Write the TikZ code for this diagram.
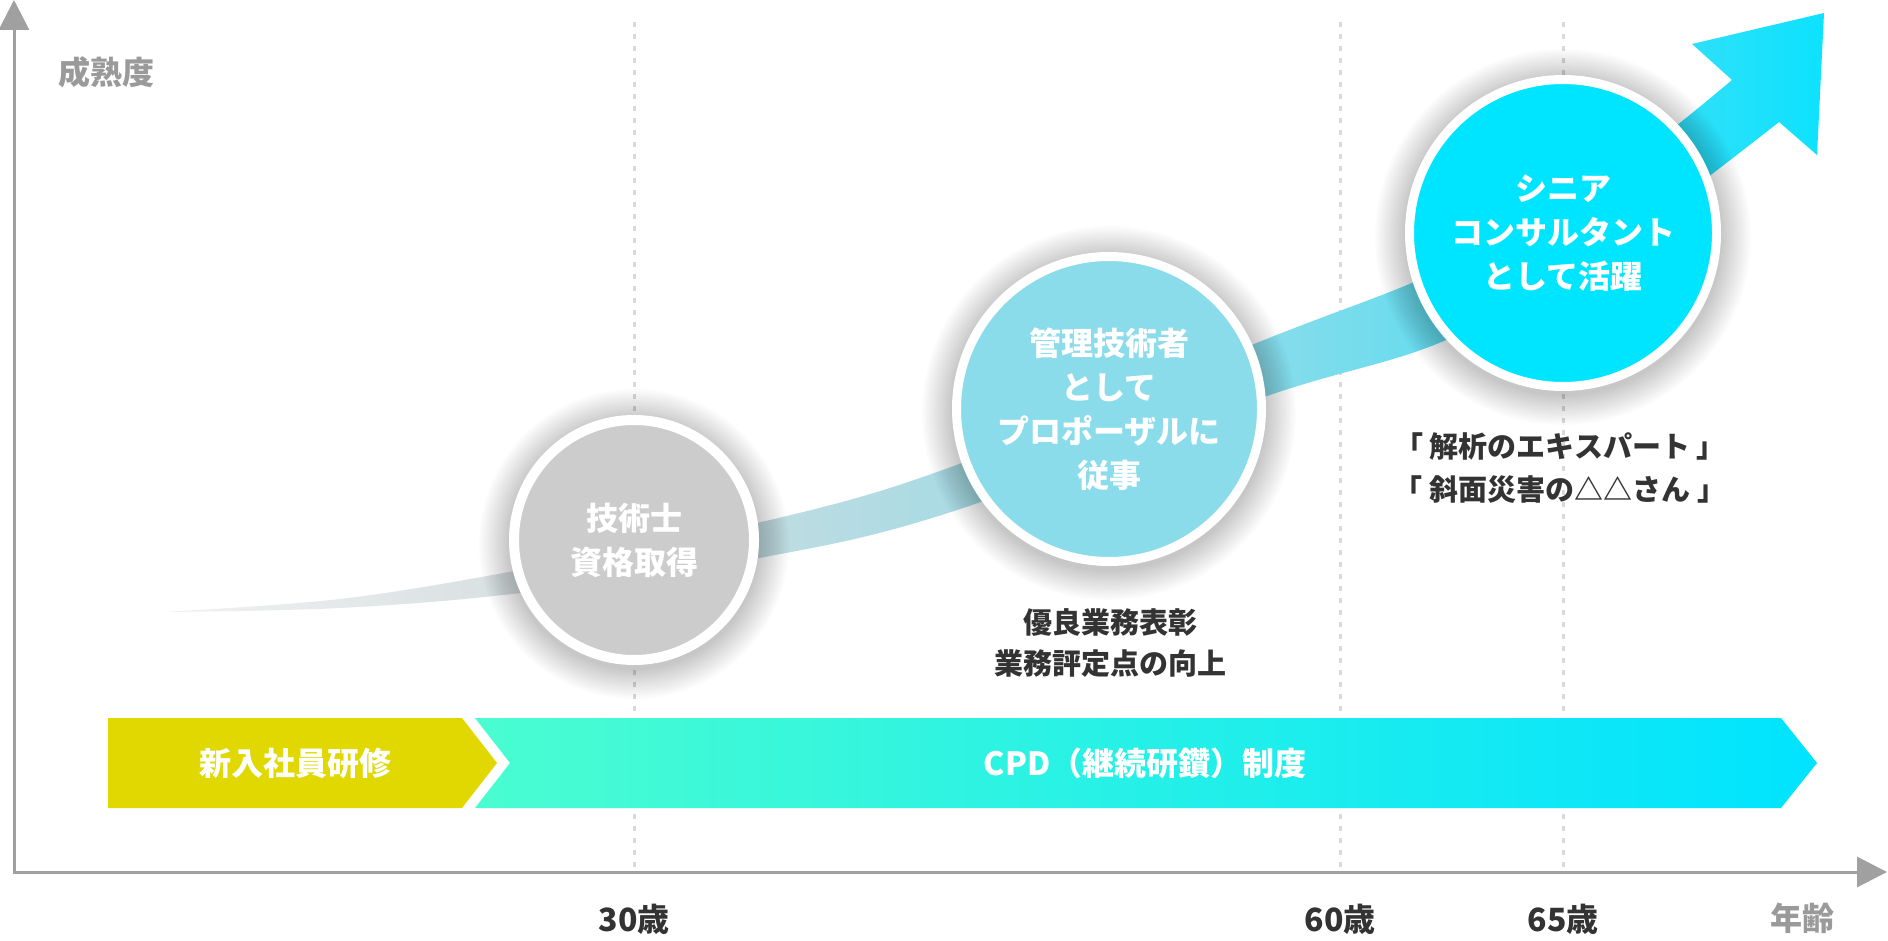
\documentclass[tikz,border=0pt]{standalone}
\usepackage{fontspec}
\setmainfont{Noto Sans CJK JP}
\usepackage{tikz}
\usetikzlibrary{arrows.meta}

\definecolor{axisgray}{HTML}{A0A0A0}
\definecolor{labelgray}{HTML}{9A9A9A}
\definecolor{dotgray}{HTML}{D9D9D9}
\definecolor{textdark}{HTML}{333333}
\definecolor{circgray}{HTML}{CCCCCC}
\definecolor{circblue}{HTML}{8ADCEA}
\definecolor{circcyan}{HTML}{00E5FF}
\definecolor{yellowbar}{HTML}{E0D800}
\definecolor{mintbar}{HTML}{4AFDD0}
\definecolor{cyanbar}{HTML}{00E3FF}
\definecolor{bandA}{HTML}{F2F2F2}
\definecolor{bandB}{HTML}{D6DFE0}
\definecolor{bandC}{HTML}{BEDCE1}
\definecolor{bandD}{HTML}{A9DBE4}
\definecolor{bandE}{HTML}{88DCEA}
\definecolor{bandF}{HTML}{62DCEF}
\definecolor{bandG}{HTML}{2EE0F8}
\definecolor{bandH}{HTML}{0CE2FF}

\pgfdeclarehorizontalshading{growth}{100bp}{color(0bp)=(bandA); color(25bp)=(bandA);
  color(36bp)=(bandB); color(43bp)=(bandC); color(49bp)=(bandD); color(58bp)=(bandE);
  color(64bp)=(bandF); color(71bp)=(bandG); color(75bp)=(bandH); color(100bp)=(bandH)}

\begin{document}
\begin{tikzpicture}[
  x=0.5pt, y=-0.5pt,
  axis/.style={draw=axisgray, line width=1.5pt,
               {Triangle[length=15pt,width=15pt]}-{Triangle[length=15pt,width=15pt]}},
  guide/.style={draw=dotgray, line width=1.5pt, dash pattern=on 2.5pt off 3.5pt},
  halo/.style={fill=black, opacity=0.014},
  bubble/.style={circle, draw=white, inner sep=0pt, align=center, text=white,
                 font=\bfseries\fontsize{16}{22}\selectfont},
  caption/.style={align=center, text=textdark, font=\bfseries\fontsize{14.5}{20.5}\selectfont},
  agelabel/.style={text=textdark, font=\bfseries\fontsize{16}{16}\selectfont},
  axislabel/.style={text=labelgray, font=\bfseries\fontsize{16}{16}\selectfont},
  barlabel/.style={text=white, font=\bfseries\fontsize{16}{16}\selectfont}
]
\useasboundingbox[fill=white] (0,0) rectangle (1888,941);

\coordinate (origin) at (14,872);
\coordinate (ytip) at (14,0);
\coordinate (xtip) at (1887,872);
\coordinate (g30) at (634,22);
\coordinate (g60) at (1340,22);
\coordinate (g65) at (1563,22);

\draw[guide] (g30) -- (g30 |- origin);
\draw[guide] (g60) -- (g60 |- origin);
\draw[guide] (g65) -- (g65 |- origin);
\draw[axis] (ytip) -- (origin) -- (xtip);

\shade[left color=mintbar, right color=cyanbar]
  (475,718) -- (1781,718) -- (1817,763) -- (1781,808) -- (475,808) -- (510,763) -- cycle;
\fill[yellowbar] (108,718) -- (462,718) -- (497,763) -- (462,808) -- (108,808) -- cycle;
\node[barlabel] (shinnyu) at (295,763) {新入社員研修};
\node[barlabel] (cpd) at (1145,763) {CPD（継続研鑽）制度};

\shade[shading=growth]
  plot[smooth, tension=0.55] coordinates {(163,612) (340,599) (520,570) (770,520) (951,467)
    (1264,340) (1439,271) (1600,183) (1732,80)}
  -- (1692,44) -- (1824,13) -- (1817,155) -- (1779,122)
  -- plot[smooth, tension=0.55] coordinates {(1779,122) (1712,174) (1600,258) (1439,343)
    (1264,397) (951,512) (770,556) (520,593) (340,608) (163,612)}
  -- cycle;

\foreach \cx/\cy/\rr in {634/540/124, 1109/409/156, 1563/233/157}
  \foreach \k in {1,...,14}
    \fill[halo] (\cx,\cy+4) circle ({\rr+2.2*\k});

\node[bubble, fill=circgray, minimum size=120pt, line width=5pt] (shikaku) at (634,540)
  {技術士\\資格取得};
\node[bubble, fill=circblue, minimum size=152.5pt, line width=4.5pt] (kanri) at (1109,409)
  {管理技術者\\として\\プロポーザルに\\従事};
\node[bubble, fill=circcyan, minimum size=153.5pt, line width=4.5pt] (senior) at (1563,233)
  {シニア\\コンサルタント\\として活躍};

\node[caption] (yuryo) at (1110,643) {優良業務表彰\\業務評定点の向上};
\node[caption, font=\bfseries\fontsize{14.5}{21.5}\selectfont] (expert) at (1560,468)
  {「 解析のエキスパート 」\\「 斜面災害の△△さん 」};

\node[axislabel] (seijuku) at (106,72) {成熟度};
\node[axislabel] (nenrei) at (1802,918) {年齢};
\node[agelabel] (age30) at (634,919) {30歳};
\node[agelabel] (age60) at (1340,919) {60歳};
\node[agelabel] (age65) at (1563,919) {65歳};
\end{tikzpicture}
\end{document}
